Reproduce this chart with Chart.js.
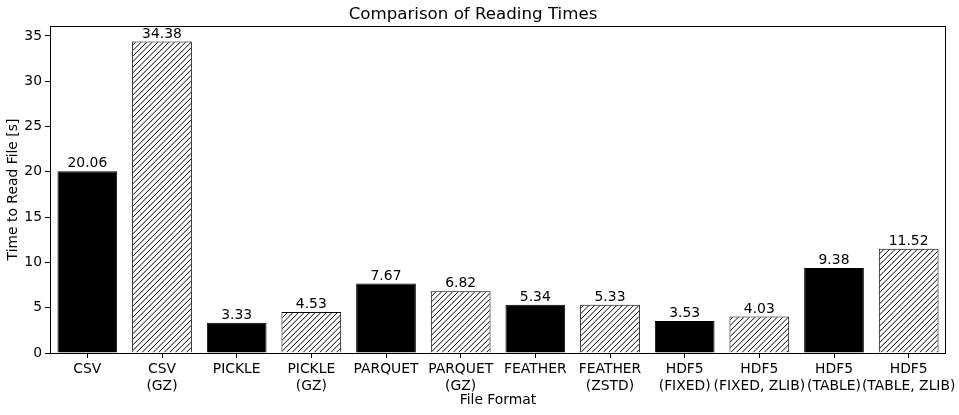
<!DOCTYPE html>
<html>
<head>
<meta charset="utf-8">
<script src="https://cdn.jsdelivr.net/npm/chart.js@4.4.1/dist/chart.umd.min.js"></script>
<style>
  html, body { margin: 0; padding: 0; background: #fff; }
  #wrap { width: 959px; height: 415px; }
</style>
</head>
<body>
<div id="wrap"><canvas id="chart" width="959" height="415"></canvas></div>
<script>
// data
const formats = [
  ['CSV'], ['CSV', '(GZ)'],
  ['PICKLE'], ['PICKLE', '(GZ)'],
  ['PARQUET'], ['PARQUET', '(GZ)'],
  ['FEATHER'], ['FEATHER', '(ZSTD)'],
  ['HDF5', '(FIXED)'], ['HDF5', '(FIXED, ZLIB)'],
  ['HDF5', '(TABLE)'], ['HDF5', '(TABLE, ZLIB)']
];
const readTimes = [20.06, 34.38, 3.33, 4.53, 7.67, 6.82, 5.34, 5.33, 3.53, 4.03, 9.38, 11.52];
const compressed = [false, true, false, true, false, true, false, true, false, true, false, true];
const yTicks = [0, 5, 10, 15, 20, 25, 30, 35];

const FONT = 'DejaVu Sans';
Chart.defaults.color = '#000';
Chart.defaults.font.family = FONT;

// diagonal hatch like matplotlib '///'
function makeHatch() {
  const size = 50;
  const c = document.createElement('canvas');
  c.width = size; c.height = size;
  const g = c.getContext('2d');
  g.fillStyle = '#fff';
  g.fillRect(0, 0, size, size);
  g.strokeStyle = '#000';
  g.lineWidth = 1;
  const step = size / 9;
  g.beginPath();
  for (let k = -2; k <= 20; k++) {
    const off = k * step;
    g.moveTo(off + 5, -5);
    g.lineTo(off - size - 5, size + 5);
  }
  g.stroke();
  return g.createPattern(c, 'repeat');
}
const hatch = makeHatch();

// value labels above each bar
const valueLabels = {
  id: 'valueLabels',
  afterDatasetsDraw(chart) {
    const ctx = chart.ctx;
    const meta = chart.getDatasetMeta(0);
    ctx.save();
    ctx.font = '13.9px "' + FONT + '"';
    ctx.fillStyle = '#000';
    ctx.textAlign = 'center';
    ctx.textBaseline = 'bottom';
    meta.data.forEach((bar, i) => {
      ctx.fillText(readTimes[i].toFixed(2), bar.x, bar.y - 0.5);
    });
    ctx.restore();
  }
};

// box around the plot area
const frame = {
  id: 'frame',
  afterDatasetsDraw(chart) {
    const a = chart.chartArea;
    const ctx = chart.ctx;
    ctx.save();
    ctx.strokeStyle = '#000';
    ctx.lineWidth = 1;
    ctx.strokeRect(Math.round(a.left) + 0.5, Math.round(a.top) + 0.5,
      Math.round(a.right - a.left) - 1, Math.round(a.bottom - a.top));
    ctx.restore();
  }
};

new Chart(document.getElementById('chart'), {
  type: 'bar',
  data: {
    labels: formats,
    datasets: [{
      data: readTimes,
      backgroundColor: compressed.map(z => z ? hatch : '#000'),
      borderColor: '#000',
      borderWidth: 1,
      categoryPercentage: 0.8,
      barPercentage: 1.0
    }]
  },
  options: {
    responsive: false,
    animation: false,
    devicePixelRatio: 1,
    layout: { autoPadding: false, padding: { left: 0, right: 13, top: 0, bottom: 0 } },
    plugins: {
      legend: { display: false },
      tooltip: { enabled: false },
      title: {
        display: true,
        text: 'Comparison of Reading Times',
        color: '#000',
        font: { family: FONT, size: 16.67, weight: 'normal' },
        padding: { top: 5, bottom: 1 }
      }
    },
    scales: {
      x: {
        offset: true,
        grid: { display: true, offset: false, drawOnChartArea: false, drawTicks: true, tickLength: 5, color: '#000' },
        border: { display: false },
        ticks: { color: '#000', font: { size: 13.9 }, padding: 3, maxRotation: 0, autoSkip: false },
        title: {
          display: true, text: 'File Format', color: '#000',
          font: { size: 13.9 }, padding: { top: 0, bottom: 6 }
        },
        afterFit(scale) { scale.height = 62; }
      },
      y: {
        min: 0,
        max: 36.1,
        grid: { display: true, drawOnChartArea: false, drawTicks: true, tickLength: 5, color: '#000' },
        border: { display: false },
        ticks: { stepSize: 5, color: '#000', font: { size: 13.9 }, padding: 3 },
        afterBuildTicks(scale) {
          scale.ticks = yTicks.map(v => ({ value: v }));
        },
        title: {
          display: true, text: 'Time to Read File [s]', color: '#000',
          font: { size: 13.9 }, padding: { top: 5, bottom: 0 }
        },
        afterFit(scale) { scale.width = 50; }
      }
    }
  },
  plugins: [valueLabels, frame]
});
</script>
</body>
</html>
